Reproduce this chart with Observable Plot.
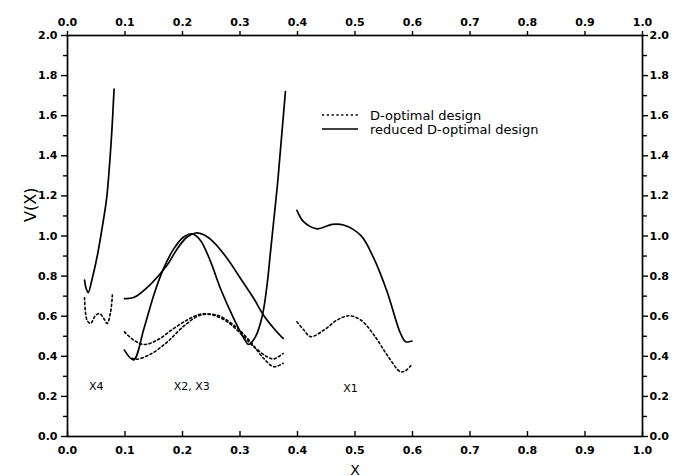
<!DOCTYPE html>
<html><head><meta charset="utf-8">
<script src="https://cdn.jsdelivr.net/npm/d3@7"></script>
<script src="https://cdn.jsdelivr.net/npm/@observablehq/plot@0.6"></script>
<style>
body{margin:0;background:#fff;}
#wrap{position:relative;width:686px;height:476px;overflow:hidden;background:#fff;}
#legend{position:absolute;left:0;top:0;}
</style></head><body><div id="wrap"></div>
<script>
// ticks
const xTicks = [0.0,0.1,0.2,0.3,0.4,0.5,0.6,0.7,0.8,0.9,1.0];
const yMajor = [0.0,0.2,0.4,0.6,0.8,1.0,1.2,1.4,1.6,1.8,2.0];
const yMinor = [0.1,0.3,0.5,0.7,0.9,1.1,1.3,1.5,1.7,1.9];

// legend / series names
const seriesNames = ["D-optimal design", "reduced D-optimal design"];

// D-optimal design (dotted)
const x4D_x = [0.0296,0.034,0.040,0.049,0.056,0.063,0.069,0.075,0.078];
const x4D_y = [0.692,0.580,0.564,0.605,0.613,0.589,0.564,0.622,0.705];
const x23Da_x = [0.099,0.115,0.133,0.156,0.185,0.208,0.231,0.254,0.278,0.301,0.324,0.347,0.359,0.375];
const x23Da_y = [0.522,0.481,0.459,0.481,0.539,0.581,0.610,0.605,0.572,0.514,0.448,0.398,0.387,0.414];
const x23Db_x = [0.112,0.120,0.144,0.173,0.202,0.231,0.260,0.289,0.318,0.341,0.359,0.375];
const x23Db_y = [0.390,0.385,0.410,0.470,0.550,0.605,0.605,0.556,0.473,0.390,0.348,0.365];
const x1D_x = [0.399,0.411,0.423,0.446,0.469,0.489,0.510,0.533,0.556,0.579,0.588,0.597];
const x1D_y = [0.572,0.531,0.498,0.531,0.581,0.602,0.581,0.506,0.406,0.323,0.328,0.353];

// reduced D-optimal design (solid)
const x4R_x = [0.0296,0.0325,0.036,0.043,0.052,0.060,0.068,0.073,0.077,0.081];
const x4R_y = [0.780,0.738,0.718,0.788,0.904,1.036,1.186,1.352,1.517,1.733];
const x23Ra_x = [0.099,0.115,0.144,0.173,0.191,0.208,0.223,0.237,0.254,0.278,0.301,0.324,0.341,0.359,0.375];
const x23Ra_y = [0.688,0.693,0.758,0.854,0.937,0.995,1.015,1.006,0.970,0.887,0.788,0.688,0.605,0.539,0.489];
const x23Rb_x = [0.099,0.115,0.133,0.150,0.167,0.185,0.202,0.217,0.231,0.249,0.266,0.289,0.307,0.315,0.327,0.339,0.347,0.353,0.359,0.365,0.370,0.379];
const x23Rb_y = [0.431,0.382,0.539,0.705,0.837,0.937,0.995,1.011,0.979,0.871,0.738,0.589,0.489,0.459,0.498,0.605,0.755,0.920,1.086,1.252,1.418,1.720];
const x1R_x = [0.399,0.411,0.434,0.460,0.480,0.510,0.533,0.556,0.579,0.588,0.599];
const x1R_y = [1.128,1.070,1.036,1.058,1.055,1.003,0.887,0.721,0.515,0.473,0.476];

// annotations
const annText = ["X4", "X2, X3", "X1"];
const annX = [0.050, 0.216, 0.492];
const annY = [0.25, 0.25, 0.24];

function rows(id, design, xs, ys) { return xs.map((x, i) => ({id, design, x, y: ys[i]})); }
const dotted = [
  ...rows("x4D", 0, x4D_x, x4D_y), ...rows("x23Da", 0, x23Da_x, x23Da_y),
  ...rows("x23Db", 0, x23Db_x, x23Db_y), ...rows("x1D", 0, x1D_x, x1D_y)];
const solid = [
  ...rows("x4R", 1, x4R_x, x4R_y), ...rows("x23Ra", 1, x23Ra_x, x23Ra_y),
  ...rows("x23Rb", 1, x23Rb_x, x23Rb_y), ...rows("x1R", 1, x1R_x, x1R_y)];
const ann = annText.map((t, i) => ({t, x: annX[i], y: annY[i]}));

const fmt = d3.format(".1f");
const plot = Plot.plot({
  width: 686, height: 476,
  marginLeft: 67, marginRight: 44, marginTop: 35, marginBottom: 40,
  x: {domain: [0, 1]},
  y: {domain: [0, 2]},
  style: {fontFamily: "'DejaVu Sans', sans-serif", fontSize: "11px", fontWeight: "bold", color: "#000", background: "#fff"},
  marks: [
    Plot.frame({stroke: "#000", strokeWidth: 1.7}),
    Plot.axisX({anchor: "top", ticks: xTicks, tickFormat: fmt, tickSize: 5, tickPadding: 5, label: null, strokeWidth: 1.4}),
    Plot.axisX({anchor: "bottom", ticks: xTicks, tickFormat: fmt, tickSize: 0, tickPadding: 10, label: null}),
    Plot.ruleX(xTicks, {y1: 0, y2: 0.025, stroke: "#000", strokeWidth: 1.4}),
    Plot.axisY({anchor: "left", ticks: yMajor, tickFormat: fmt, tickSize: 6, tickPadding: 4, label: null, strokeWidth: 1.4}),
    Plot.axisY({anchor: "left", ticks: yMinor, tickFormat: () => "", tickSize: 4, label: null, strokeWidth: 1.4}),
    Plot.axisY({anchor: "right", ticks: yMajor, tickFormat: fmt, tickSize: 5, tickPadding: 2, label: null, strokeWidth: 1.4}),
    Plot.axisY({anchor: "right", ticks: yMinor, tickFormat: () => "", tickSize: 4, label: null, strokeWidth: 1.4}),
    Plot.line(dotted, {x: "x", y: "y", z: "id", stroke: "#000", strokeWidth: 1.6, strokeDasharray: "2.2,2.6", curve: "catmull-rom"}),
    Plot.line(solid, {x: "x", y: "y", z: "id", stroke: "#000", strokeWidth: 1.7, curve: "catmull-rom"}),
    Plot.text(ann, {x: "x", y: "y", text: "t", fontSize: 11, fontWeight: "normal"}),
    Plot.text(["V(X)"], {frameAnchor: "left", dx: -37, dy: -14, rotate: -90, fontSize: 16, fontWeight: "normal"}),
    Plot.text(["X"], {frameAnchor: "bottom", dy: 38, lineAnchor: "bottom", fontSize: 14, fontWeight: "normal"})
  ]
});
const wrap = document.getElementById("wrap");
wrap.appendChild(plot);

// legend
const ns = "http://www.w3.org/2000/svg";
const lg = document.createElementNS(ns, "svg");
lg.setAttribute("id", "legend");
lg.setAttribute("width", 686); lg.setAttribute("height", 476);
lg.style.pointerEvents = "none";
seriesNames.forEach((name, i) => {
  const y = 115 + i * 14;
  const l = document.createElementNS(ns, "line");
  l.setAttribute("x1", 322); l.setAttribute("x2", 358);
  l.setAttribute("y1", y); l.setAttribute("y2", y);
  l.setAttribute("stroke", "#000"); l.setAttribute("stroke-width", 1.6);
  if (i === 0) l.setAttribute("stroke-dasharray", "2.2,2.6");
  lg.appendChild(l);
  const t = document.createElementNS(ns, "text");
  t.setAttribute("x", 370); t.setAttribute("y", y);
  t.setAttribute("dy", "0.35em");
  t.setAttribute("font-family", "'DejaVu Sans', sans-serif");
  t.setAttribute("font-size", "13");
  t.textContent = name;
  lg.appendChild(t);
});
wrap.appendChild(lg);
</script>
</body></html>
